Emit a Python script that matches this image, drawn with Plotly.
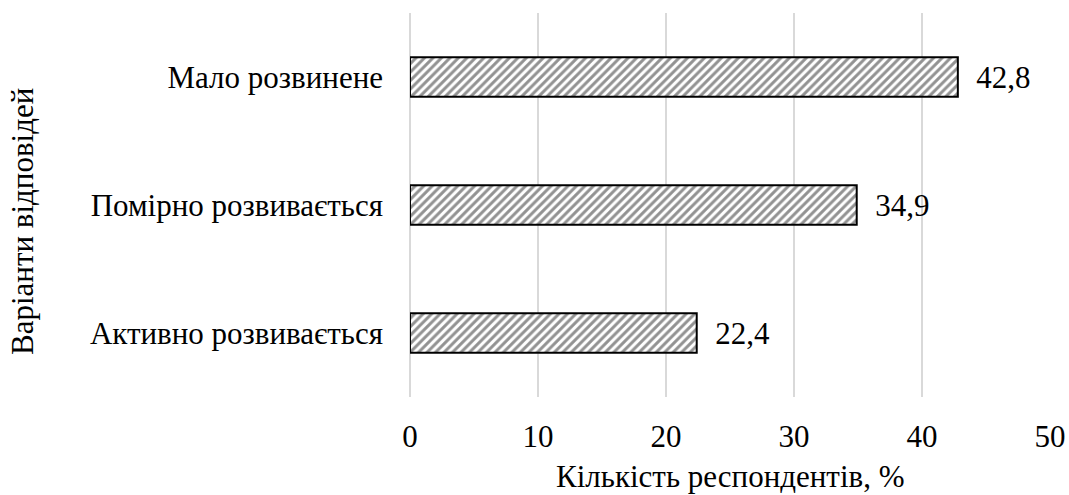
import plotly.graph_objects as go

categories = ["Активно розвивається", "Помірно розвивається", "Мало розвинене"]
values = [22.4, 34.9, 42.8]
x_ticks = [0, 10, 20, 30, 40, 50]

labels = ["\u00a0\u00a0" + f"{v:.1f}".replace(".", ",") for v in values]

FONT = "Liberation Serif"
FS = 31

fig = go.Figure(go.Bar(
    y=categories, x=values, orientation="h",
    text=labels, textposition="outside", cliponaxis=False,
    textfont=dict(family=FONT, size=FS, color="black"),
    marker=dict(
        color="white",
        line=dict(color="black", width=2),
        pattern=dict(shape="/", fgcolor="#262626", bgcolor="white", size=6, solidity=0.5),
    ),
))

fig.update_layout(
    width=1069, height=495,
    margin=dict(l=410, r=19, t=13, b=98, autoexpand=False),
    paper_bgcolor="white", plot_bgcolor="white",
    bargap=0.69,
    showlegend=False,
    font=dict(family=FONT, size=FS, color="black"),
    annotations=[
        dict(text="Варіанти відповідей", xref="paper", yref="paper",
             x=(22 - 410) / 640, y=1 - (222 - 13) / 384,
             xanchor="center", yanchor="middle", textangle=-90, showarrow=False,
             font=dict(family=FONT, size=FS, color="black")),
        dict(text="Кількість респондентів, %", xref="paper", yref="paper",
             x=0.5, y=(397 - 476) / 384,
             xanchor="center", yanchor="middle", showarrow=False,
             font=dict(family=FONT, size=FS, color="black")),
    ],
)
fig.update_xaxes(
    range=[0, 50], tickvals=x_ticks, ticktext=[str(t) for t in x_ticks],
    showgrid=True, gridcolor="#d9d9d9", gridwidth=2,
    zeroline=True, zerolinecolor="#d9d9d9", zerolinewidth=2,
    showline=False, ticks="", ticklen=0, automargin=False,
    ticklabelstandoff=18,
    tickfont=dict(family=FONT, size=FS, color="black"),
)
fig.update_yaxes(
    showgrid=False, showline=False, ticks="", automargin=False,
    ticklabelstandoff=26,
    tickfont=dict(family=FONT, size=FS, color="black"),
)

fig.write_html("out.html", config={"displayModeBar": False},
               post_script="document.body.style.margin='0';")
